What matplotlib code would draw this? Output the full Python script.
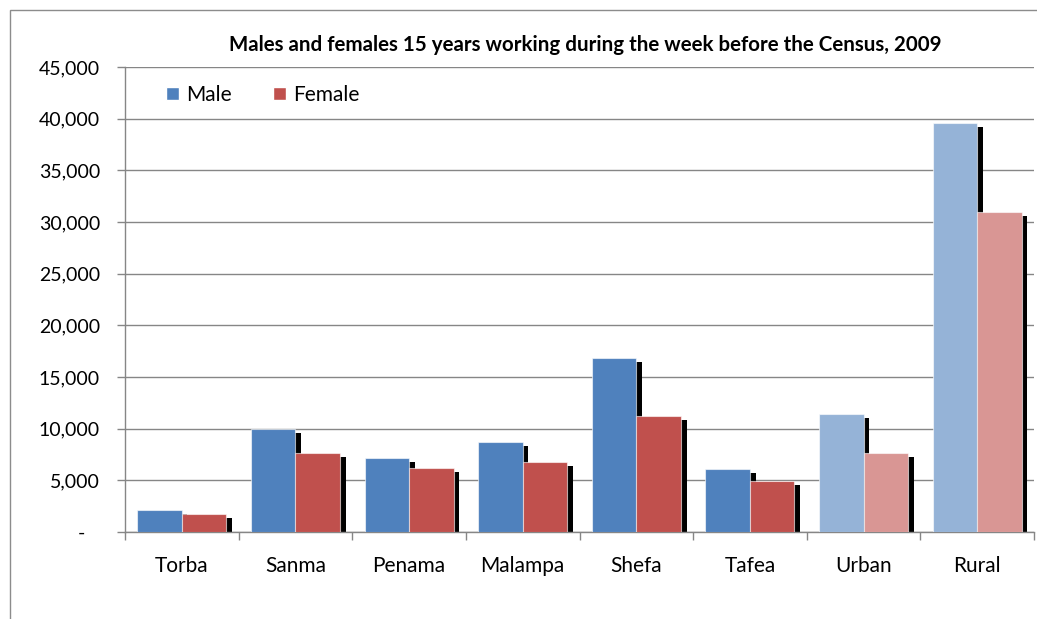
import matplotlib
matplotlib.use("Agg")
import matplotlib.pyplot as plt
from matplotlib.patches import Rectangle, Patch
from matplotlib.ticker import FuncFormatter, MultipleLocator
import numpy as np

plt.rcParams['font.family'] = ['Lato', 'DejaVu Sans']

categories = ["Torba", "Sanma", "Penama", "Malampa", "Shefa", "Tafea", "Urban", "Rural"]
male = [2100, 10000, 7200, 8700, 16800, 6100, 11450, 39600]
female = [1700, 7600, 6200, 6750, 11250, 4900, 7600, 31000]

male_colors = ["#4F81BD"] * 6 + ["#95B3D7"] * 2
female_colors = ["#C0504D"] * 6 + ["#D99694"] * 2

W, H = 1037, 619
fig = plt.figure(figsize=(W / 100, H / 100), dpi=100)
ax = fig.add_axes([125 / W, 1 - 532 / H, (1034 - 125) / W, (532 - 67) / H])

# outer chart frame
fig.patches.append(Rectangle((10 / W, -0.1), 1.2, 1 - 10 / H + 0.1,
                             transform=fig.transFigure, fill=False,
                             edgecolor="#8C8C8C", linewidth=1.0, zorder=0))

x = np.arange(len(categories))
bw = 0.392
shadow_dx = 0.05
shadow_dy = 390

m = np.array(male)
f = np.array(female)

# drop shadows behind each bar
ax.bar(x - bw / 2 + shadow_dx, m - shadow_dy, bw, color="black", zorder=2)
ax.bar(x + bw / 2 + shadow_dx, f - shadow_dy, bw, color="black", zorder=2)

ax.bar(x - bw / 2, m, bw, color=male_colors, edgecolor=(1, 1, 1, 0.6),
       linewidth=0.8, zorder=3)
ax.bar(x + bw / 2, f, bw, color=female_colors, edgecolor=(1, 1, 1, 0.6),
       linewidth=0.8, zorder=4)

ax.set_xlim(-0.5, len(categories) - 0.5)
ax.set_ylim(0, 45000)
ax.yaxis.set_major_locator(MultipleLocator(5000))
# accounting style: zero shown as a dash set in from the right
ax.yaxis.set_major_formatter(FuncFormatter(lambda v, p: "-   " if v == 0 else f"{int(v):,}"))
ax.grid(axis="y", color="#868686", linewidth=1.0, zorder=1)
ax.set_axisbelow(True)

ax.set_xticks(x)
ax.set_xticklabels(categories)
ax.set_xticks(np.arange(len(categories) + 1) - 0.5, minor=True)
ax.tick_params(axis="x", which="major", length=0, pad=17, labelsize=15)
ax.tick_params(axis="x", which="minor", length=6, color="#868686", width=1)
ax.tick_params(axis="y", length=6, color="#868686", width=1, labelsize=14, pad=12)

for s in ["top", "right"]:
    ax.spines[s].set_visible(False)
for s in ["left", "bottom"]:
    ax.spines[s].set_color("#868686")
    ax.spines[s].set_linewidth(1.0)

fig.text(585 / W, 1 - 45 / H, "Males and females 15 years working during the week before the Census, 2009",
         ha="center", va="center", fontsize=14.8, fontweight="bold")

handles = [Patch(facecolor="#4F81BD", edgecolor="white"), Patch(facecolor="#C0504D", edgecolor="white")]
ax.legend(handles, ["Male", "Female"], loc="upper left", bbox_to_anchor=(166 / W, 1 - 85 / H),
          bbox_transform=fig.transFigure, ncol=2, frameon=False, fontsize=15,
          handlelength=0.6, handleheight=0.6, handletextpad=0.35, columnspacing=2.0,
          borderaxespad=0, borderpad=0)

fig.savefig("out.png", dpi=100)
